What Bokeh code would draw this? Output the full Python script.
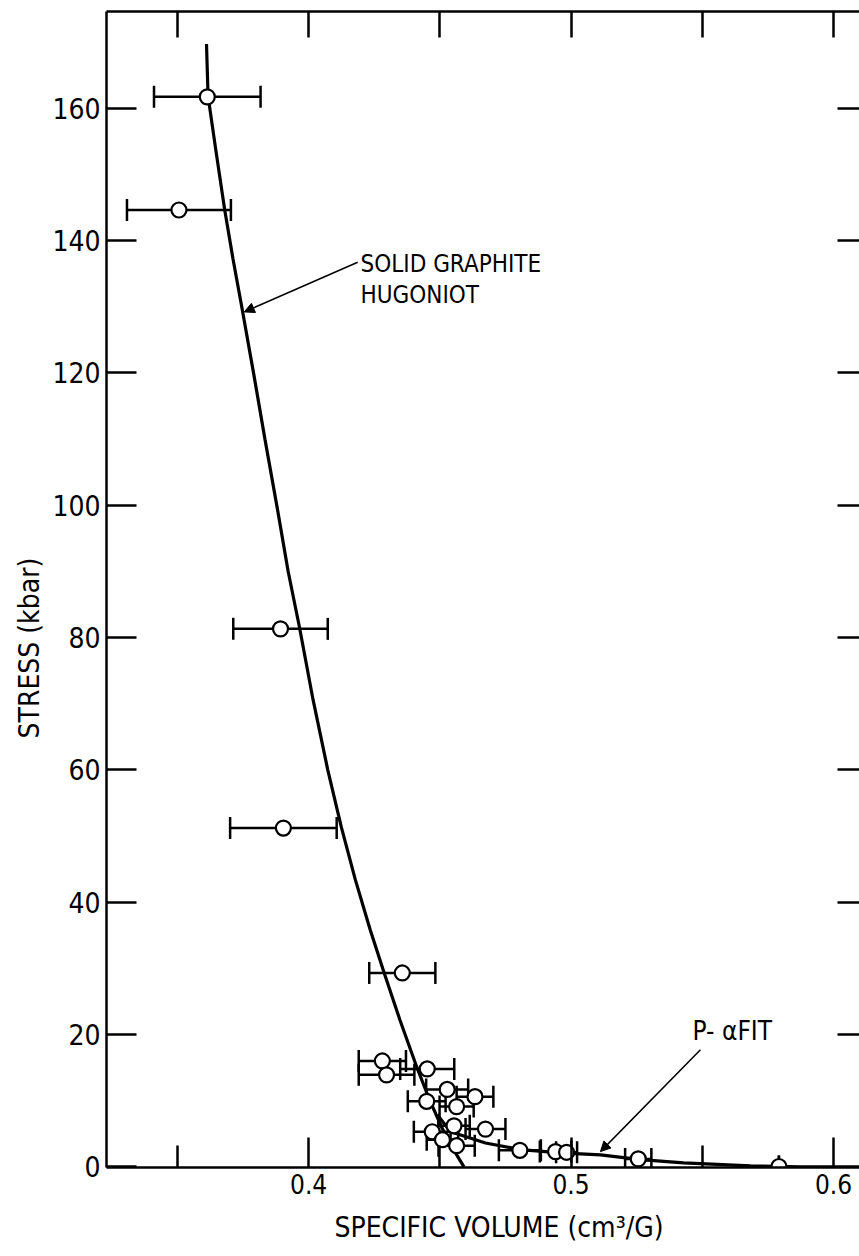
from bokeh.plotting import figure
from bokeh.models import (ColumnDataSource, Whisker, TeeHead, LinearAxis, FixedTicker,
                          Label, Arrow, NormalHead, Range1d, Title)
from bokeh.embed import file_html
from bokeh.resources import INLINE

FONT = "'DejaVu Sans Condensed', 'Liberation Sans', sans-serif"

# measured points: specific volume (cm^3/g), stress (kbar), volume uncertainty (+/-)
volume = [0.3614, 0.3506, 0.3893, 0.3904, 0.4357, 0.4281, 0.4297, 0.4452, 0.4528, 0.4634, 0.4450,
          0.4564, 0.4471, 0.4554, 0.4674, 0.4564, 0.4510, 0.4805, 0.4941, 0.4983, 0.5256, 0.5792]
stress = [161.7, 144.6, 81.3, 51.2, 29.3, 16.0, 13.9, 14.8, 11.7, 10.6, 9.9,
          9.1, 5.3, 6.2, 5.7, 3.2, 4.1, 2.5, 2.3, 2.2, 1.2, 0.05]
vol_err = [0.0203, 0.0198, 0.0180, 0.0203, 0.0126, 0.0090, 0.0106, 0.0103, 0.0080, 0.0070, 0.0072,
           0.0065, 0.0070, 0.0060, 0.0076, 0.0069, 0.0060, 0.0080, 0.0060, 0.0040, 0.0050, 0.0]

# solid graphite Hugoniot curve
hug_v = [0.3611, 0.3617, 0.3646, 0.3680, 0.3712, 0.3747, 0.3791, 0.3834, 0.3880, 0.3922,
         0.3966, 0.4017, 0.4073, 0.4125, 0.4178, 0.4235, 0.4288, 0.4348, 0.4412, 0.4461,
         0.4507, 0.4552, 0.4592]
hug_p = [169.7, 161.8, 153.8, 144.7, 137.2, 129.6, 119.8, 109.9, 99.7, 90.0,
         81.4, 70.6, 60.0, 51.3, 43.4, 35.8, 29.3, 22.2, 15.1, 10.1,
         6.0, 2.6, 0.0]

# P-alpha fit curve
pa_v = [0.4491, 0.4541, 0.4674, 0.4808, 0.4960, 0.5112, 0.5265, 0.5429, 0.5684, 0.5874, 0.6099]
pa_p = [7.85, 5.3, 3.6, 2.6, 2.1, 1.8, 1.1, 0.6, 0.15, 0.0, 0.0]

x_major = [0.4, 0.5, 0.6]
x_minor = [0.35, 0.45, 0.55]
x_top = [0.35, 0.4, 0.45, 0.5, 0.55, 0.6]
y_ticks = [0, 20, 40, 60, 80, 100, 120, 140, 160]
y_ticks_right = [20, 40, 60, 80, 100, 120, 140, 160]

p = figure(width=859, height=1256, output_backend="svg", toolbar_location=None,
           x_range=Range1d(0.3230, 0.6099), y_range=Range1d(-0.1, 174.6),
           min_border_left=106, min_border_right=0, min_border_top=11, min_border_bottom=89,
           x_axis_location=None, y_axis_location=None)
p.outline_line_color = None
p.xgrid.visible = False
p.ygrid.visible = False
p.background_fill_color = "white"
p.border_fill_color = "white"

def style_axis(ax, major_len, minor_len):
    ax.axis_line_color = "black"
    ax.axis_line_width = 2.5
    ax.major_tick_in = major_len
    ax.major_tick_out = 0
    ax.minor_tick_in = minor_len
    ax.minor_tick_out = 0
    ax.major_tick_line_width = 2.5
    ax.minor_tick_line_width = 2.5
    ax.major_tick_line_color = "black"
    ax.minor_tick_line_color = "black"

# bottom axis
xb = LinearAxis(ticker=FixedTicker(ticks=x_major, minor_ticks=x_minor))
style_axis(xb, 30, 22)
xb.major_label_text_font = FONT
xb.major_label_text_font_size = "26px"
xb.major_label_text_color = "black"
xb.major_label_standoff = 6
p.add_layout(xb, "below")

# x axis title, placed like the original
p.add_layout(Title(text="SPECIFIC VOLUME (cm³/G)", align="left", offset=228, standoff=25,
                   text_font=FONT, text_font_size="28px", text_font_style="normal",
                   text_color="black"), "below")

# top axis: line with unlabeled (minor) ticks only
xt = LinearAxis(ticker=FixedTicker(ticks=[], minor_ticks=x_top))
style_axis(xt, 0, 26)
p.add_layout(xt, "above")

# left axis
yl = LinearAxis(ticker=FixedTicker(ticks=y_ticks))
style_axis(yl, 30, 0)
yl.major_label_text_font = FONT
yl.major_label_text_font_size = "28px"
yl.major_label_text_color = "black"
yl.major_label_standoff = 6
p.add_layout(yl, "left")

# y axis title, shifted down like the original
p.add_layout(Title(text="STRESS (kbar)", align="left", offset=429, standoff=8,
                   text_font=FONT, text_font_size="28px", text_font_style="normal",
                   text_color="black"), "left")

# right axis: unlabeled ticks only, no line
yr = LinearAxis(ticker=FixedTicker(ticks=[], minor_ticks=y_ticks_right))
style_axis(yr, 0, 22)
yr.axis_line_color = None
p.add_layout(yr, "right")

# curves
p.line(hug_v, hug_p, line_color="black", line_width=3.2)
p.line(pa_v, pa_p, line_color="black", line_width=3.2)

# error bars
lo = [v - e for v, e in zip(volume, vol_err)]
hi = [v + e for v, e in zip(volume, vol_err)]
src = ColumnDataSource(dict(v=volume, s=stress, lo=lo, hi=hi))
w = Whisker(base="s", lower="lo", upper="hi", dimension="width", source=src,
            line_color="black", line_width=2.5,
            lower_head=TeeHead(size=22, line_width=2.5, line_color="black"),
            upper_head=TeeHead(size=22, line_width=2.5, line_color="black"))
p.add_layout(w)

p.scatter("v", "s", source=src, size=15, fill_color="white", line_color="black", line_width=2.2)

# annotations
p.add_layout(Label(x=0.4198, y=138.5, text="SOLID GRAPHITE", text_baseline="top",
                   text_font=FONT, text_font_size="24px", text_color="black"))
p.add_layout(Label(x=0.4198, y=133.9, text="HUGONIOT", text_baseline="top",
                   text_font=FONT, text_font_size="24px", text_color="black"))
p.add_layout(Arrow(x_start=0.4187, y_start=136.7, x_end=0.3755, y_end=129.2,
                   line_color="black", line_width=1.5,
                   end=NormalHead(size=10, fill_color="black", line_color="black")))

p.add_layout(Label(x=0.5463, y=20.5, text="P- αFIT", text_baseline="middle",
                   text_font=FONT, text_font_size="26px", text_color="black"))
p.add_layout(Arrow(x_start=0.5493, y_start=17.7, x_end=0.5112, y_end=2.3,
                   line_color="black", line_width=1.5,
                   end=NormalHead(size=10, fill_color="black", line_color="black")))

open("out.html", "w").write(file_html(p, INLINE))
